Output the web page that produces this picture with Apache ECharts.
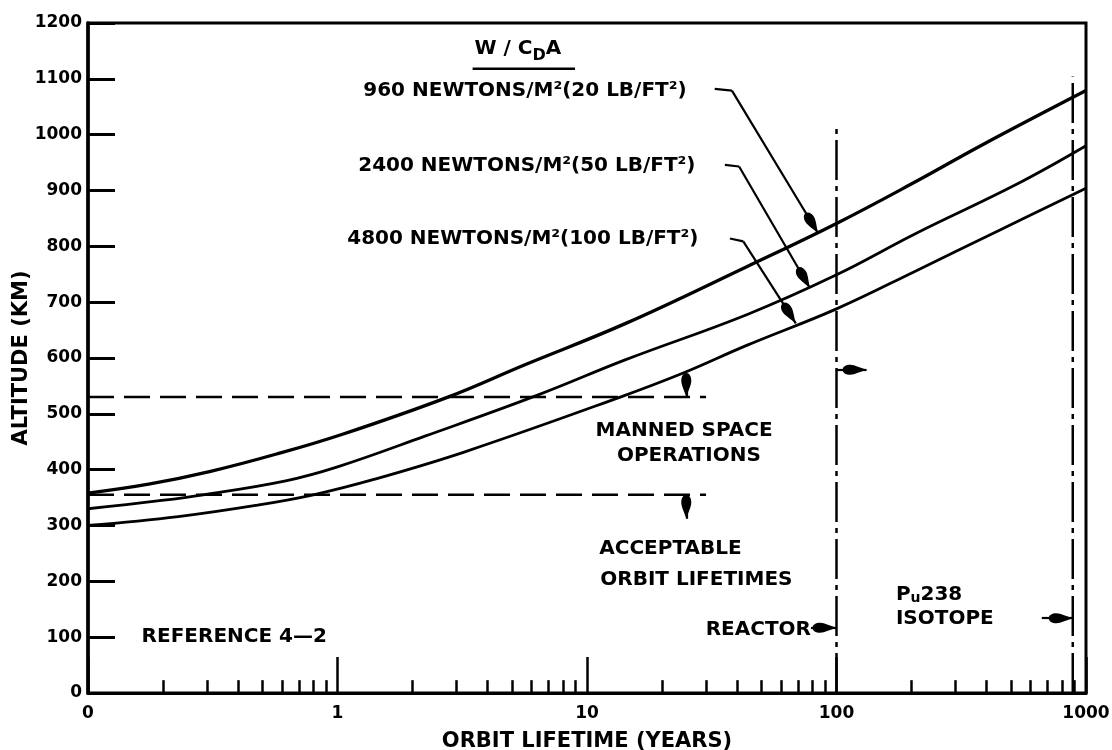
<!DOCTYPE html>
<html>
<head>
<meta charset="utf-8">
<title>Orbit lifetime vs altitude</title>
<script src="https://cdn.jsdelivr.net/npm/echarts@6/dist/echarts.min.js"></script>
<style>
  html, body { margin: 0; padding: 0; background: #fff; }
  #chart { width: 1112px; height: 750px; }
</style>
</head>
<body>
<div id="chart"></div>
<script>
// orbit lifetime (years) / altitude (km)
const life960 = [0.1, 0.175, 0.31, 0.57, 1.04, 2.77, 5.64, 14.3, 43.9, 100, 208, 385, 1000]
const alt960 = [358, 374, 397, 428, 463, 530, 588, 662, 764, 841, 916, 982, 1079]
const life2400 = [0.1, 0.19, 0.29, 0.62, 1.0, 2.24, 6.3, 14.3, 43.9, 100, 208, 527, 1000]
const alt2400 = [330, 344, 355, 380, 405, 460, 533, 597, 678, 749, 823, 911, 980]
const life4800 = [0.1, 0.23, 0.47, 0.8, 1.41, 3.24, 13.6, 24.3, 43.9, 100, 208, 450, 1000]
const alt4800 = [300, 316, 336, 355, 383, 432, 530, 573, 623, 688, 756, 829, 904]

// manned space operations band (km) and how far the dashes run (years)
const bandAlt = [530, 355]
const bandEnd = 30
// reactor / Pu238 isotope lifetimes (years) and the tops of their lines (km)
const limitLife = [100, 885]
const limitTop = [1019, 1104]

const xTickLabels = ['0', '1', '10', '100', '1000']
const minorSteps = [2, 3, 4, 5, 6, 7, 8, 9]
const decades = [0.1, 1, 10, 100]

const FONT = '"DejaVu Sans", sans-serif'
const TEAR = 'path://M5,0 C6.5,5 10,11 10,15 C10,19 8,22 5,22 C2,22 0,19 0,15 C0,11 3.5,5 5,0 Z'

const chart = echarts.init(document.getElementById('chart'))

function zip(xs, ys) {
  return xs.map((x, i) => [x, ys[i]])
}

function seg(a, b, arrow) {
  return [
    { coord: a, symbol: 'none' },
    { coord: b, symbol: arrow ? TEAR : 'none' },
  ]
}

function curve(name, xs, ys, width) {
  return {
    name,
    type: 'line',
    data: zip(xs, ys),
    smooth: 0.4,
    showSymbol: false,
    lineStyle: { color: '#000', width },
    z: 3,
  }
}

const minorTicks = []
decades.forEach((d) => {
  minorSteps.forEach((m) => minorTicks.push(seg([m * d, 0], [m * d, 23], false)))
})

const series = [
  curve('960', life960, alt960, 3.3),
  curve('2400', life2400, alt2400, 2.8),
  curve('4800', life4800, alt4800, 2.8),
]

bandAlt.forEach((a, i) => {
  series.push({
    name: 'band' + i,
    type: 'line',
    data: [[0.1, a], [bandEnd, a]],
    showSymbol: false,
    lineStyle: { color: '#000', width: 2.5, type: [26, 10] },
  })
})

limitLife.forEach((x, i) => {
  series.push({
    name: 'limit' + i,
    type: 'line',
    data: [[x, 0], [x, limitTop[i]]],
    showSymbol: false,
    lineStyle: { color: '#000', width: 2.5, type: [40, 6, 5, 6] },
  })
})

// axis minor ticks
series.push({
  name: 'minor',
  type: 'line',
  data: [],
  markLine: {
    silent: true,
    animation: false,
    symbol: ['none', 'none'],
    label: { show: false },
    lineStyle: { color: '#000', width: 2.5, type: 'solid' },
    data: minorTicks,
  },
})

// leader lines and arrows
series.push({
  name: 'notes',
  type: 'line',
  data: [],
  clip: false,
  markLine: {
    silent: true,
    animation: false,
    symbolSize: [10, 24],
    symbolOffset: [[0, 0], [0, 12]],
    label: { show: false },
    lineStyle: { color: '#000', width: 2.2, type: 'solid' },
    data: [
      seg([32.5, 1082], [38.1, 1079], false),
      seg([38.1, 1079], [84.5, 823], true),
      seg([35.7, 946], [40.7, 943], false),
      seg([40.7, 943], [78.3, 725], true),
      seg([37.4, 814], [42.3, 809], false),
      seg([42.3, 809], [68.7, 662], true),
      seg([25, 572], [25, 530], true),
      seg([25, 355], [25, 312], true),
      seg([100, 579], [132, 579], true),
      seg([885, 605], [1195, 605], true),
      seg([79, 117], [100, 117], true),
      seg([665, 134], [885, 134], true),
    ],
  },
})

chart.setOption({
  animation: false,
  backgroundColor: '#fff',
  grid: {
    left: 88,
    right: 26,
    top: 23,
    bottom: 57,
    containLabel: false,
    outerBoundsMode: 'none',
    show: true,
    borderColor: '#000',
    borderWidth: 3,
  },
  xAxis: {
    type: 'log',
    logBase: 10,
    min: 0.1,
    max: 1000,
    name: 'ORBIT LIFETIME (YEARS)',
    nameLocation: 'middle',
    nameGap: 38,
    nameTextStyle: { color: '#000', fontFamily: FONT, fontWeight: 'bold', fontSize: 21 },
    axisLine: { lineStyle: { color: '#000', width: 3 } },
    axisTick: { inside: true, length: 36, lineStyle: { color: '#000', width: 2.5 } },
    axisLabel: {
      color: '#000',
      fontFamily: FONT,
      fontWeight: 'bold',
      fontSize: 17,
      margin: 12,
      formatter: (v, i) => xTickLabels[i],
    },
    splitLine: { show: false },
  },
  yAxis: {
    type: 'value',
    min: 0,
    max: 1200,
    interval: 100,
    name: 'ALTITUDE (KM)',
    nameLocation: 'middle',
    nameGap: 56,
    nameMoveOverlap: false,
    nameTextStyle: { color: '#000', fontFamily: FONT, fontWeight: 'bold', fontSize: 21 },
    axisLine: { lineStyle: { color: '#000', width: 3.5 } },
    axisTick: { inside: true, length: 27, lineStyle: { color: '#000', width: 3 } },
    axisLabel: {
      color: '#000',
      fontFamily: FONT,
      fontWeight: 'bold',
      fontSize: 17,
      margin: 6,
      formatter: (v) => String(v),
    },
    splitLine: { show: false },
  },
  series,
})

// text annotations, anchored in data space
const notes = [
  { at: [5.64, 1079], text: '960 NEWTONS/M²(20 LB/FT²)', align: 'center' },
  { at: [5.74, 945], text: '2400 NEWTONS/M²(50 LB/FT²)', align: 'center' },
  { at: [5.53, 814], text: '4800 NEWTONS/M²(100 LB/FT²)', align: 'center' },
  { at: [24.5, 470], text: 'MANNED SPACE', align: 'center' },
  { at: [25.6, 425], text: 'OPERATIONS', align: 'center' },
  { at: [11.2, 259], text: 'ACCEPTABLE', align: 'left' },
  { at: [11.3, 202], text: 'ORBIT LIFETIMES', align: 'left' },
  { at: [79, 114], text: 'REACTOR', align: 'right' },
  { at: [173, 133], text: 'ISOTOPE', align: 'left' },
  { at: [0.164, 100], text: 'REFERENCE 4—2', align: 'left' },
]

function px(p) {
  return chart.convertToPixel({ gridIndex: 0 }, p)
}

const graphic = notes.map((n) => {
  const p = px(n.at)
  return {
    type: 'text',
    x: p[0],
    y: p[1],
    silent: true,
    style: {
      text: n.text,
      fill: '#000',
      font: 'bold 20px ' + FONT,
      align: n.align,
      verticalAlign: 'middle',
      textAlign: n.align,
      textVerticalAlign: 'middle',
    },
  }
})

// W / C_D A header with underline
const head = px([5.28, 1153])
graphic.push({
  type: 'text',
  x: head[0],
  y: head[1],
  silent: true,
  style: {
    text: '{t|W / C}{s|D}{t|A}',
    align: 'center',
    verticalAlign: 'middle',
    textAlign: 'center',
    textVerticalAlign: 'middle',
    rich: {
      t: { fill: '#000', font: 'bold 20px ' + FONT },
      s: { fill: '#000', font: 'bold 16px ' + FONT, padding: [14, 0, 0, 0] },
    },
  },
})
const u0 = px([3.48, 1118])
const u1 = px([8.95, 1118])
graphic.push({
  type: 'line',
  silent: true,
  shape: { x1: u0[0], y1: u0[1], x2: u1[0], y2: u1[1] },
  style: { stroke: '#000', lineWidth: 2.5 },
})

// Pu238 label
const pu = px([173, 176])
graphic.push({
  type: 'text',
  x: pu[0],
  y: pu[1],
  silent: true,
  style: {
    text: '{t|P}{s|u}{t|238}',
    align: 'left',
    verticalAlign: 'middle',
    textAlign: 'left',
    textVerticalAlign: 'middle',
    rich: {
      t: { fill: '#000', font: 'bold 20px ' + FONT },
      s: { fill: '#000', font: 'bold 14px ' + FONT, padding: [8, 0, 0, 0] },
    },
  },
})

chart.setOption({ graphic })

window.addEventListener('resize', () => chart.resize())
</script>
</body>
</html>
